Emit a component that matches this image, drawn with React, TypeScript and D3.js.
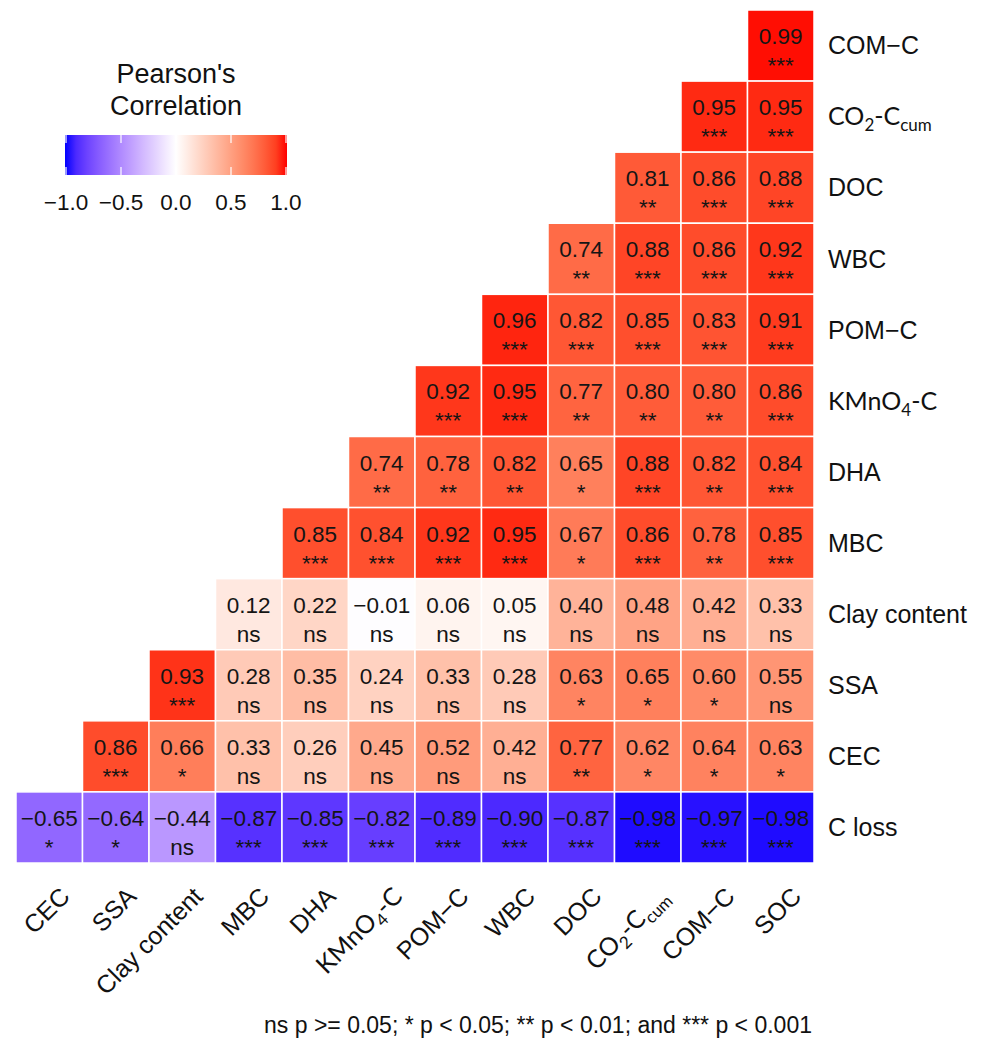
import React from "react";
import * as d3 from "d3";

const columns = ["CEC", "SSA", "Clay content", "MBC", "DHA", "KMnO4-C", "POM−C", "WBC", "DOC", "CO2-Ccum", "COM−C", "SOC"];
const rows = ["COM−C", "CO2-Ccum", "DOC", "WBC", "POM−C", "KMnO4-C", "DHA", "MBC", "Clay content", "SSA", "CEC", "C loss"];

// each row lists the cells from its first filled column to SOC
const corrValues: number[][] = [
  [0.99],
  [0.95, 0.95],
  [0.81, 0.86, 0.88],
  [0.74, 0.88, 0.86, 0.92],
  [0.96, 0.82, 0.85, 0.83, 0.91],
  [0.92, 0.95, 0.77, 0.8, 0.8, 0.86],
  [0.74, 0.78, 0.82, 0.65, 0.88, 0.82, 0.84],
  [0.85, 0.84, 0.92, 0.95, 0.67, 0.86, 0.78, 0.85],
  [0.12, 0.22, -0.01, 0.06, 0.05, 0.4, 0.48, 0.42, 0.33],
  [0.93, 0.28, 0.35, 0.24, 0.33, 0.28, 0.63, 0.65, 0.6, 0.55],
  [0.86, 0.66, 0.33, 0.26, 0.45, 0.52, 0.42, 0.77, 0.62, 0.64, 0.63],
  [-0.65, -0.64, -0.44, -0.87, -0.85, -0.82, -0.89, -0.9, -0.87, -0.98, -0.97, -0.98],
];

const sigLabels: string[][] = [
  ["***"],
  ["***", "***"],
  ["**", "***", "***"],
  ["**", "***", "***", "***"],
  ["***", "***", "***", "***", "***"],
  ["***", "***", "**", "**", "**", "***"],
  ["**", "**", "**", "*", "***", "**", "***"],
  ["***", "***", "***", "***", "*", "***", "**", "***"],
  ["ns", "ns", "ns", "ns", "ns", "ns", "ns", "ns", "ns"],
  ["***", "ns", "ns", "ns", "ns", "ns", "*", "*", "*", "ns"],
  ["***", "*", "ns", "ns", "ns", "ns", "ns", "**", "*", "*", "*"],
  ["*", "*", "ns", "***", "***", "***", "***", "***", "***", "***", "***", "***"],
];

const legendTicks = [-1, -0.5, 0, 0.5, 1];
const legendTitle = ["Pearson's", "Correlation"];
const footnote = "ns p >= 0.05; * p < 0.05; ** p < 0.01; and *** p < 0.001";

const W = 986;
const H = 1039;
const FONT = "'Liberation Sans', Arial, Helvetica, sans-serif";
const ALT_FONT = "Lato, 'Open Sans', sans-serif";

function fillColor(v: number): string {
  return v >= 0 ? d3.interpolateLab("#ffffff", "#ff0000")(v) : d3.interpolateLab("#ffffff", "#0000ff")(-v);
}

function fmt(v: number): string {
  return v.toFixed(2).replace("-", "−");
}

function labelContent(name: string) {
  if (name === "KMnO4-C") {
    return [
      <tspan key="a">KMnO</tspan>,
      <tspan key="b" fontSize="0.68em" dy="6">4</tspan>,
      <tspan key="c" dy="-6">-C</tspan>,
    ];
  }
  if (name === "CO2-Ccum") {
    return [
      <tspan key="a">CO</tspan>,
      <tspan key="b" fontSize="0.68em" dy="6">2</tspan>,
      <tspan key="c" dy="-6">-C</tspan>,
      <tspan key="d" fontSize="0.68em" dy="6">cum</tspan>,
    ];
  }
  return name;
}

function isAlt(name: string) {
  return name === "KMnO4-C" || name === "CO2-Ccum";
}

export default function App() {
  const x = d3.scaleBand<string>().domain(columns).range([16, 814]).padding(0);
  const y = d3.scaleBand<string>().domain(rows).range([10, 863]).padding(0);
  const bw = x.bandwidth();
  const bh = y.bandwidth();

  const cells: { r: string; c: string; v: number; s: string }[] = [];
  corrValues.forEach((vals, i) => {
    const start = columns.length - vals.length;
    vals.forEach((v, k) => {
      cells.push({ r: rows[i], c: columns[start + k], v, s: sigLabels[i][k] });
    });
  });

  const lx = d3.scaleLinear().domain([-1, 1]).range([66, 286]);
  const gradStops = d3.range(0, 1.0001, 0.05).map((t) => ({ t, c: fillColor(t * 2 - 1) }));
  const barTop = 135;
  const barBottom = 175;
  const gridBottom = 863;

  return (
    <svg width={W} height={H} style={{ position: "absolute", left: 0, top: 0, background: "#fff" }} fontFamily={FONT}>
      <defs>
        <linearGradient id="lg" x1="0" x2="1" y1="0" y2="0">
          {gradStops.map((s) => (
            <stop key={s.t} offset={s.t} stopColor={s.c} />
          ))}
        </linearGradient>
      </defs>
      <rect width={W} height={H} fill="#fff" />

      {/* cells */}
      {cells.map((d) => (
        <g key={d.r + "|" + d.c}>
          <rect x={x(d.c)} y={y(d.r)} width={bw} height={bh} fill={fillColor(d.v)} stroke="#ffffff" strokeWidth={1.5} />
          <text x={(x(d.c) as number) + bw / 2} y={(y(d.r) as number) + bh / 2 - 1.5} textAnchor="middle" fontSize={22.5} fill="#151515">
            {fmt(d.v)}
          </text>
          <text x={(x(d.c) as number) + bw / 2} y={(y(d.r) as number) + bh / 2 + 27.5} textAnchor="middle" fontSize={22.5} fill="#151515">
            {d.s}
          </text>
        </g>
      ))}

      {/* right labels */}
      {rows.map((r) => (
        <text
          key={r}
          x={828}
          y={(y(r) as number) + bh / 2}
          dy="0.35em"
          fontSize={25}
          fill="#111"
          fontFamily={isAlt(r) ? ALT_FONT : FONT}
        >
          {labelContent(r)}
        </text>
      ))}

      {/* bottom labels */}
      {columns.map((c) => {
        const px = (x(c) as number) + bw / 2 + 22;
        const py = gridBottom + 35;
        return (
          <text
            key={c}
            transform={`translate(${px},${py}) rotate(-45)`}
            textAnchor="end"
            fontSize={25}
            fill="#111"
            fontFamily={isAlt(c) ? ALT_FONT : FONT}
          >
            {labelContent(c)}
          </text>
        );
      })}

      {/* legend */}
      {legendTitle.map((t, i) => (
        <text key={t} x={176} y={83 + i * 32} textAnchor="middle" fontSize={27} fill="#111">
          {t}
        </text>
      ))}
      <rect x={65} y={barTop} width={222} height={barBottom - barTop} fill="url(#lg)" />
      {legendTicks.map((t) => (
        <g key={t}>
          <line x1={lx(t)} x2={lx(t)} y1={barTop} y2={barTop + 8} stroke="#fff" strokeWidth={1.2} />
          <line x1={lx(t)} x2={lx(t)} y1={barBottom - 8} y2={barBottom} stroke="#fff" strokeWidth={1.2} />
          <text x={lx(t)} y={210} textAnchor="middle" fontSize={22.5} fill="#111">
            {t.toFixed(1).replace("-", "−")}
          </text>
        </g>
      ))}

      {/* footnote */}
      <text x={812} y={1033} textAnchor="end" fontSize={23} fill="#111">
        {footnote}
      </text>
    </svg>
  );
}
